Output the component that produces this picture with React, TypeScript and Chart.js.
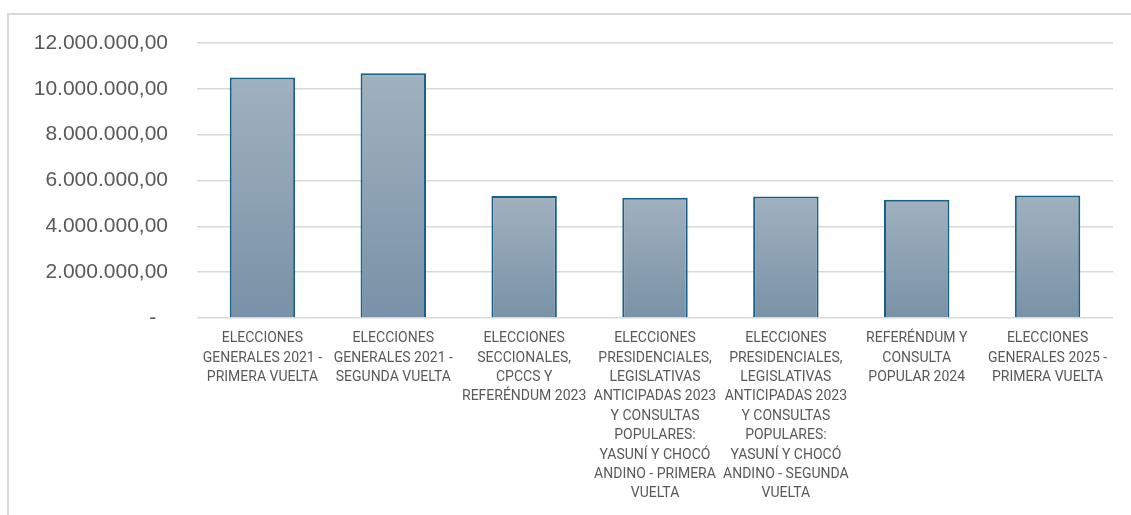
import React, { useEffect, useRef } from "react";
import { Chart, registerables } from "chart.js";

Chart.register(...registerables);

const categories: string[][] = [
  ["ELECCIONES", "GENERALES 2021 -", "PRIMERA VUELTA"],
  ["ELECCIONES", "GENERALES 2021 -", "SEGUNDA VUELTA"],
  ["ELECCIONES", "SECCIONALES,", "CPCCS Y", "REFERÉNDUM 2023"],
  ["ELECCIONES", "PRESIDENCIALES,", "LEGISLATIVAS", "ANTICIPADAS 2023", "Y CONSULTAS", "POPULARES:", "YASUNÍ Y CHOCÓ", "ANDINO - PRIMERA", "VUELTA"],
  ["ELECCIONES", "PRESIDENCIALES,", "LEGISLATIVAS", "ANTICIPADAS 2023", "Y CONSULTAS", "POPULARES:", "YASUNÍ Y CHOCÓ", "ANDINO - SEGUNDA", "VUELTA"],
  ["REFERÉNDUM Y", "CONSULTA", "POPULAR 2024"],
  ["ELECCIONES", "GENERALES 2025 -", "PRIMERA VUELTA"],
];

const values: number[] = [10490000, 10680000, 5320000, 5250000, 5300000, 5160000, 5350000];

const yTickLabels: Record<number, string> = {
  0: "-  ",
  2000000: "2.000.000,00",
  4000000: "4.000.000,00",
  6000000: "6.000.000,00",
  8000000: "8.000.000,00",
  10000000: "10.000.000,00",
  12000000: "12.000.000,00",
};

export default function App() {
  const ref = useRef<HTMLCanvasElement | null>(null);

  useEffect(() => {
    if (!ref.current) return;
    const chart = new Chart(ref.current, {
      type: "bar",
      data: {
        labels: categories,
        datasets: [
          {
            data: values,
            backgroundColor: (ctx: any) => {
              const c = ctx.chart;
              const area = c.chartArea;
              if (!area || ctx.type !== "data") return "#8ca2b5";
              const yScale = c.scales.y;
              const top = yScale.getPixelForValue(ctx.parsed?.y ?? ctx.raw);
              const bottom = yScale.getPixelForValue(0);
              if (!isFinite(top) || !isFinite(bottom) || top === bottom) return "#8ca2b5";
              const g = c.ctx.createLinearGradient(0, top, 0, bottom);
              g.addColorStop(0, "#a0b1bf");
              g.addColorStop(1, "#7992a7");
              return g;
            },
            borderColor: "#1c5f85",
            borderWidth: 2,
            borderSkipped: "bottom",
            barPercentage: 0.5,
            categoryPercentage: 1,
          },
        ],
      },
      options: {
        animation: false,
        responsive: true,
        maintainAspectRatio: false,
        layout: { padding: { top: 43, right: 18, left: 0, bottom: 0 } },
        plugins: { legend: { display: false }, tooltip: { enabled: false } },
        scales: {
          x: {
            grid: { display: false, drawTicks: false },
            border: { display: false },
            ticks: {
              color: "#595959",
              font: { family: "Roboto", size: 14, lineHeight: 1.385 },
              padding: 11,
              maxRotation: 0,
              autoSkip: false,
            },
            afterFit: (s: any) => {
              s.height = 197;
            },
          },
          y: {
            min: 0,
            max: 12000000,
            grid: { color: "#d9d9d9", lineWidth: 1.5, drawTicks: false },
            border: { display: false },
            ticks: {
              stepSize: 2000000,
              color: "#595959",
              font: { family: "Liberation Sans", size: 21 },
              padding: 29,
              callback: (v: any) => yTickLabels[Number(v)] ?? "",
            },
            afterFit: (s: any) => {
              s.width = 197;
            },
          },
        },
      },
    });
    return () => chart.destroy();
  }, []);

  return (
    <div style={{ position: "fixed", left: 0, top: 0, width: 1131, height: 515, background: "#fff" }}>
      <div
        style={{
          position: "absolute",
          left: 7,
          top: 13,
          width: 1140,
          height: 520,
          borderTop: "2px solid #d9d9d9",
          borderLeft: "2px solid #d9d9d9",
          boxSizing: "border-box",
        }}
      />
      <div style={{ position: "absolute", left: 0, top: 0, width: 1131, height: 515 }}>
        <canvas ref={ref} />
      </div>
    </div>
  );
}
